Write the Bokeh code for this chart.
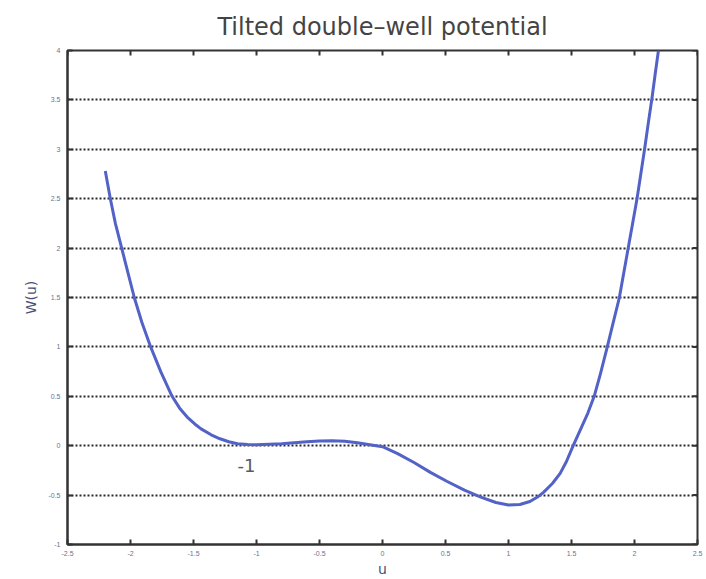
import math
from bokeh.plotting import figure
from bokeh.models import FixedTicker, Range1d
from bokeh.core.properties import value
from bokeh.embed import file_html
from bokeh.resources import INLINE

# curve
u_vals = [-2.20, -2.16, -2.12, -2.07, -2.02, -1.97, -1.91, -1.84, -1.76, -1.67,
          -1.61, -1.55, -1.49, -1.44, -1.36, -1.29, -1.22, -1.15, -1.07, -1.00,
          -0.90, -0.80, -0.70, -0.60, -0.50, -0.40, -0.30, -0.20, -0.10, 0.00,
          0.12, 0.25, 0.38, 0.51, 0.65, 0.78, 0.90, 1.00, 1.09, 1.17,
          1.23, 1.28, 1.35, 1.41, 1.46, 1.51, 1.57, 1.63, 1.68, 1.73,
          1.78, 1.83, 1.88, 1.915, 1.95, 1.985, 2.02, 2.05, 2.08, 2.11,
          2.14, 2.165, 2.19]
w_vals = [2.78, 2.50, 2.25, 2.00, 1.75, 1.50, 1.25, 1.00, 0.75, 0.50,
          0.38, 0.29, 0.22, 0.17, 0.11, 0.07, 0.04, 0.02, 0.012, 0.01,
          0.014, 0.02, 0.03, 0.04, 0.048, 0.05, 0.045, 0.03, 0.01, -0.01,
          -0.08, -0.17, -0.27, -0.36, -0.45, -0.52, -0.575, -0.60, -0.595, -0.565,
          -0.52, -0.47, -0.38, -0.28, -0.16, -0.01, 0.16, 0.33, 0.50, 0.73,
          0.98, 1.24, 1.50, 1.75, 2.00, 2.25, 2.50, 2.75, 3.00, 3.27,
          3.53, 3.77, 4.00]

x_ticks = [-2.5, -2, -1.5, -1, -0.5, 0, 0.5, 1, 1.5, 2, 2.5]
x_labels = ["-2.5", "-2", "-1.5", "-1", "-0.5", "0", "0.5", "1", "1.5", "2", "2.5"]
y_ticks = [-1, -0.5, 0, 0.5, 1, 1.5, 2, 2.5, 3, 3.5, 4]
y_labels = ["-1", "-0.5", "0", "0.5", "1", "1.5", "2", "2.5", "3", "3.5", "4"]

title_text = "Tilted double\u2013well potential"
annot_text = "-1"
annot_u, annot_w = -1.08, -0.20

X_MIN, X_MAX, Y_MIN, Y_MAX = -2.5, 2.5, -1, 4

p = figure(width=704, height=579, output_backend="svg", toolbar_location=None,
           x_range=Range1d(X_MIN, X_MAX), y_range=Range1d(Y_MIN, Y_MAX),
           min_border_left=67, min_border_top=50, min_border_right=7, min_border_bottom=33,
           title=title_text)
p.title.align = "center"
p.title.text_font = "DejaVu Sans"
p.title.text_font_size = "24px"
p.title.text_font_style = "normal"
p.title.text_color = "#444444"
p.title.standoff = 20

p.outline_line_color = "#333333"
p.outline_line_width = 2

tick_color = "#6c7196"
for ax in p.xaxis:
    ax.ticker = FixedTicker(ticks=x_ticks)
    ax.major_label_overrides = {t: l for t, l in zip(x_ticks, x_labels)}
for ax in p.yaxis:
    ax.ticker = FixedTicker(ticks=y_ticks)
    ax.major_label_overrides = {t: l for t, l in zip(y_ticks, y_labels)}

for ax in list(p.xaxis) + list(p.yaxis):
    ax.major_tick_in = 5
    ax.major_tick_out = 0
    ax.minor_tick_in = 0
    ax.minor_tick_out = 0
    ax.axis_line_color = "#333333"
    ax.axis_line_width = 2
    ax.major_tick_line_color = "#333333"
    ax.major_tick_line_width = 2
    ax.major_label_text_font = "Liberation Sans"
    ax.major_label_text_font_size = "7px"
    ax.major_label_text_color = tick_color
    ax.axis_label_text_font = "DejaVu Sans"
    ax.axis_label_text_font_style = "normal"
    ax.axis_label_text_color = "#4a4f73"
    ax.axis_label_text_font_size = "14px"

p.xaxis.axis_label = "u"
p.xaxis.major_label_standoff = 6
p.xaxis.axis_label_standoff = 2
p.yaxis.axis_label = "W(u)"
p.yaxis.major_label_standoff = 7
p.yaxis.axis_label_standoff = 6

# inward ticks on the top and right edges of the box
p.scatter(x=x_ticks, y=[Y_MAX] * len(x_ticks), marker="dash", angle=math.pi / 2,
          size=10, line_color="#333333", line_width=2)
p.scatter(x=[X_MAX] * len(y_ticks), y=y_ticks, marker="dash", angle=0,
          size=10, line_color="#333333", line_width=2)

p.xgrid.visible = False
p.ygrid.ticker = FixedTicker(ticks=y_ticks)
p.ygrid.grid_line_color = "#2a2a2a"
p.ygrid.grid_line_width = 2
p.ygrid.grid_line_dash = "2 2"

p.line(u_vals, w_vals, line_color="#5262c6", line_width=3, line_join="round")

p.text(x=[annot_u], y=[annot_w], text=[annot_text], text_align="center",
       text_baseline="middle", text_font=value("DejaVu Sans"),
       text_font_size="18px", text_color="#5a5a5a")

open("out.html", "w").write(file_html(p, INLINE))
